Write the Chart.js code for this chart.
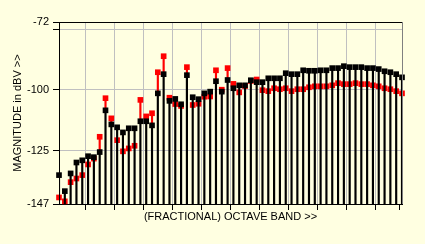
<!DOCTYPE html>
<html><head><meta charset="utf-8">
<script src="https://cdn.jsdelivr.net/npm/chart.js@4.4.1/dist/chart.umd.min.js"></script>
<style>html,body{margin:0;padding:0;background:#FFFFE1;overflow:hidden}</style>
</head><body>
<canvas id="c" width="425" height="244"></canvas>
<script>
const bands = [1,2,3,4,5,6,7,8,9,10,11,12,13,14,15,16,17,18,19,20,21,22,23,24,25,26,27,28,29,30,
               31,32,33,34,35,36,37,38,39,40,41,42,43,44,45,46,47,48,49,50,51,52,53,54,55,56,57,58,59,60];
const blackSeries = [-135.1,-141.7,-134.4,-129.9,-129.0,-127.3,-127.7,-125.6,-108.4,-114.2,
                     -115.4,-117.5,-115.8,-115.8,-112.9,-112.9,-114.6,-101.4,-93.5,-104.5,
                     -103.7,-105.9,-93.9,-103.0,-103.8,-101.4,-100.7,-96.4,-100.7,-95.9,
                     -99.3,-98.1,-98.1,-96.0,-96.8,-96.8,-95.2,-95.2,-95.2,-93.1,
                     -93.5,-93.5,-91.9,-92.1,-92.1,-91.9,-91.9,-91.0,-91.0,-90.2,
                     -90.6,-90.6,-90.6,-91.0,-91.0,-91.4,-92.3,-92.7,-93.5,-94.8];
const redSeries = [-144.3,-145.9,-138.0,-136.5,-135.1,-130.7,-128.3,-119.3,-103.4,-111.7,
                   -120.7,-125.3,-124.1,-123.0,-104.1,-110.9,-109.6,-92.7,-86.1,-103.2,
                   -105.8,-106.6,-90.6,-106.2,-105.7,-102.8,-102.7,-91.9,-99.9,-91.0,
                   -97.5,-101.0,-98.4,-96.3,-95.7,-100.1,-100.5,-99.3,-99.7,-99.3,
                   -100.5,-99.7,-99.7,-98.9,-98.5,-98.5,-98.5,-98.1,-97.2,-97.6,
                   -97.6,-97.2,-97.6,-97.6,-98.1,-98.5,-99.3,-99.7,-100.5,-101.4];
const yMin = -147, yMax = -72;
const yTickValues = [-147, -125, -100, -75, -72];
const yLabelledTicks = [-147, -125, -100, -72];
const yGridValues = [-125, -100, -75];

const BG = '#FFFFE1';
const GRID = '#C0C0C0';
Chart.defaults.font.family = "'Liberation Sans', Arial, sans-serif";
Chart.defaults.font.size = 11;
Chart.defaults.color = '#000';

const frame = {
  id: 'frame',
  beforeDraw(chart) {
    const c = chart.ctx;
    c.save(); c.fillStyle = BG; c.fillRect(0, 0, chart.width, chart.height); c.restore();
  },
  afterDraw(chart) {
    const a = chart.chartArea, c = chart.ctx;
    c.save();
    c.lineWidth = 1;
    c.strokeStyle = '#000';
    c.beginPath(); c.moveTo(a.left, Math.round(a.top) + 0.5); c.lineTo(a.right, Math.round(a.top) + 0.5); c.stroke();
    c.strokeStyle = '#808080';
    c.beginPath(); c.moveTo(Math.round(a.right) + 0.5, a.top); c.lineTo(Math.round(a.right) + 0.5, a.bottom); c.stroke();
    c.restore();
  }
};

// black stems rise from the axis floor; the red stem is only visible where it
// extends above the black marker, so it is drawn from the black value to the red value
const blackStems = blackSeries.map(v => [yMin, v]);
const redStems = redSeries.map((v, i) => v > blackSeries[i] ? [blackSeries[i], v] : null);

new Chart(document.getElementById('c'), {
  type: 'bar',
  data: {
    labels: bands,
    datasets: [
      { type: 'bar', data: redStems, backgroundColor: '#FF0000', barThickness: 1.5, order: 4, borderWidth: 0, grouped: false },
      { type: 'line', data: redSeries, showLine: false, pointStyle: 'rect', pointRadius: 4,
        pointBackgroundColor: '#FF0000', pointBorderWidth: 0, order: 3, clip: false },
      { type: 'bar', data: blackStems, backgroundColor: '#000000', barThickness: 1.5, order: 2, borderWidth: 0, grouped: false },
      { type: 'line', data: blackSeries, showLine: false, pointStyle: 'rect', pointRadius: 4,
        pointBackgroundColor: '#000000', pointBorderWidth: 0, order: 1, clip: false }
    ]
  },
  options: {
    responsive: false,
    animation: false,
    events: [],
    layout: { padding: { top: 22, right: 23, left: 0, bottom: 0 } },
    plugins: { legend: { display: false }, tooltip: { enabled: false } },
    scales: {
      x: {
        type: 'category',
        offset: false,
        grid: {
          color: ctx => (ctx.index % 5 === 0) ? GRID : 'rgba(0,0,0,0)',
          tickColor: ctx => (ctx.index % 5 === 0 || ctx.index === bands.length - 1) ? '#000' : 'rgba(0,0,0,0)',
          tickLength: 6,
          lineWidth: 1
        },
        border: { color: '#000', width: 1 },
        ticks: { autoSkip: false, maxRotation: 0, callback: () => '' },
        title: { display: true, text: '(FRACTIONAL) OCTAVE BAND >>', color: '#000',
                 font: { size: 11 }, padding: { top: 0, bottom: 20 } },
        afterFit: s => { s.height = 40; }
      },
      y: {
        type: 'linear',
        min: yMin, max: yMax,
        afterBuildTicks: s => { s.ticks = yTickValues.map(v => ({ value: v })); },
        ticks: { padding: 4, color: '#000',
                 callback: v => yLabelledTicks.includes(v) ? String(v) : '' },
        grid: {
          color: ctx => (ctx.tick && yGridValues.includes(ctx.tick.value)) ? GRID : 'rgba(0,0,0,0)',
          tickColor: '#000',
          tickLength: 6,
          lineWidth: 1
        },
        border: { color: '#000', width: 1 },
        title: { display: true, text: 'MAGNITUDE in dBV >>', color: '#000',
                 font: { size: 11 }, padding: { top: 11, bottom: 0 } },
        afterFit: s => { s.width = 59; }
      }
    }
  },
  plugins: [frame]
});
</script>
</body></html>
